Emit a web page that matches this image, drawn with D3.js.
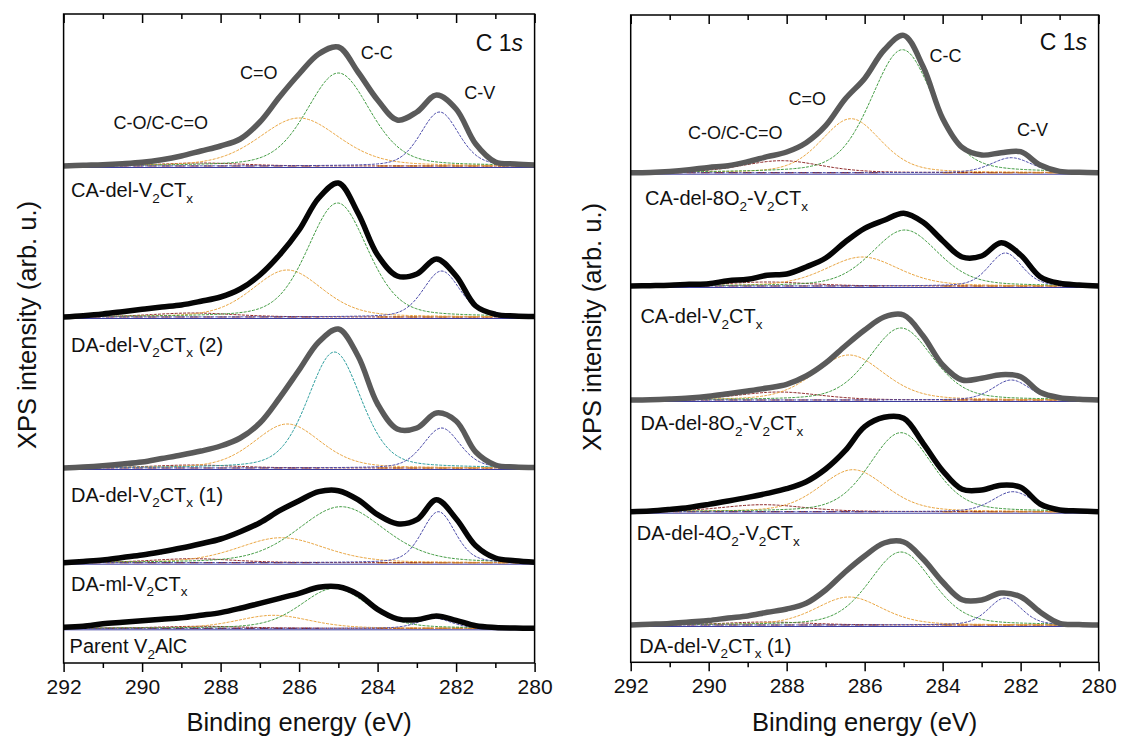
<!DOCTYPE html>
<html><head><meta charset="utf-8">
<script src="https://cdn.jsdelivr.net/npm/d3@7"></script>
<style>
body{margin:0;background:#fff}
svg{display:block}
text{font-family:"Liberation Sans",Arial,sans-serif;fill:#111}
</style>
</head><body>
<svg id="chart" width="1123" height="742"></svg>
<script>
// ---------------- DATA ----------------
// binding-energy grid (eV) of the sampled spectra
const energy = [292,291.5,291,290.5,290,289.5,289,288.5,288,287.5,287,286.5,286,285.5,285,284.5,284,283.5,283,282.5,282,281.5,281,280.5,280];

// left panel, top to bottom (intensity above each spectrum's own background, arb. u.)
const leftSamples = ["CA-del-V_2CT_x","DA-del-V_2CT_x (2)","DA-del-V_2CT_x (1)","DA-ml-V_2CT_x","Parent V_2AlC"];
const leftOffsets = [497, 346, 195, 100.3, 34.7];
const left1 = [0,0.7,1.3,2.3,3.7,6.3,10,15,20,27,44,69,92,112,119,94,66,46,54,71,57,22,4,2,1];
const left2 = [0,1.3,3,5.3,7.7,10,12,15.7,20,28,42,62,87,119,134,104,62,41,43,58,41,11,2.7,1,0.5];
const left3 = [0,1,2.3,4,6,9.5,13,17,22,30,45,70,98,126,139,112,64,39,40,55,47,16,3,1,0.5];
const left4 = [0,1.3,2.7,5.3,7.7,11,14.7,19,23.7,31,40,52,62,71,72,63,48,39,43,63,44,17,4.7,2,0.5];
const left5 = [1,2,4.5,6,7.5,9,10.5,13,15.7,20,25,30,35,41,41.5,34,19,9.5,8.5,12.3,8,2.5,0.8,0.3,0];

// right panel, top to bottom
const rightSamples = ["CA-del-8O_2-V_2CT_x","CA-del-V_2CT_x","DA-del-8O_2-V_2CT_x","DA-del-4O_2-V_2CT_x","DA-del-V_2CT_x (1)"];
const rightOffsets = [489.6, 376.3, 262.3, 150.6, 37.3];
const right1 = [0,0.3,1.3,3,5.3,7,11,16,20.7,30,47,73.7,94.3,122.7,137.3,106,54.3,25.3,17.7,20,21,7.7,1.3,0.5,0];
const right2 = [0,0.3,0.7,1.7,2.3,5.3,6.7,10.7,12,19,28,44,57.7,65.7,72.7,63.7,45.3,29,30,43.3,31,9.3,2.7,1,0];
const right3 = [0,0.3,1,2,3.7,6.3,9,12,15.7,24,37,54,70,83,85,64,35,20,21.7,25.3,23.3,7.7,2.3,0.7,0];
const right4 = [0,0.7,2.3,4.3,7.3,10.7,14.3,18.3,23,30,42.7,61,85,94.4,93.4,68.4,41,22.4,21.7,26.4,24.4,7.7,1.7,0.7,0];
const right5 = [0,0.7,1.5,3,4.5,7,9,12.7,16,21.7,35,53,69,82,83,66,43,25.3,25,32,28.3,13,1.7,0.5,0];

// fitted components: [centre (eV), height (arb. u.), FWHM (eV)] per spectrum
const leftCC  = [[285.0,93,1.9],[285.02,114,1.8],[285.1,116,1.6],[284.93,56,2.6],[285.1,40,2.0]];
const leftCO  = [[286.0,48,2.4],[286.3,47,2.1],[286.3,44,2.0],[286.45,25,2.6],[286.65,13,2.2]];
const leftCV  = [[282.42,54,1.15],[282.37,46,1.1],[282.37,40,1.1],[282.45,51,1.0],[282.55,10,1.0]];
const leftCOC = [[288.5,3,2.5],[288.7,4,2.5],[288.7,3,2.5],[288.7,4,2.5],[288.5,2,2.5]];
const rightCC  = [[285.03,123,1.9],[284.97,56,2.0],[285.07,72,1.9],[285.07,79,1.9],[285.07,73,1.9]];
const rightCO  = [[286.35,54,1.8],[286.06,29,2.2],[286.4,45,2.1],[286.3,42,2.0],[286.4,28,2.0]];
const rightCV  = [[282.24,15,1.2],[282.39,33,1.0],[282.24,20,1.1],[282.2,20,1.2],[282.4,27,1.0]];
const rightCOC = [[288.13,12,2.4],[288.5,4,2.5],[288.2,8,2.5],[288.6,7,2.5],[288.5,3,2.5]];

const majorTicks = [292,290,288,286,284,282,280];
const minorTicks = [291,289,287,285,283,281];
const peakNames = ["C-O/C-C=O","C=O","C-C","C-V"];

// ---------------- DRAWING ----------------
const svg = d3.select("#chart");
const FONT = '"Liberation Sans",Arial,sans-serif';

function pv(E, p){ const t=(E-p[0])/p[2]; return p[1]*(0.7*Math.exp(-4*Math.LN2*t*t)+0.3/(1+4*t*t)); }

function richText(sel, str, size, subSize){
  const parts = str.split(/(_.)/).filter(s=>s.length);
  let shifted = false;
  parts.forEach(p=>{
    if(p[0]==="_"){
      sel.append("tspan").attr("font-size",subSize).attr("dy",shifted?0:size*0.28).text(p[1]);
      shifted = true;
    } else {
      sel.append("tspan").attr("font-size",size).attr("dy",shifted?-size*0.28:0).text(p);
      shifted = false;
    }
  });
}

function panel(cfg){
  const x = d3.scaleLinear().domain([292,280]).range([cfg.x0,cfg.x1]);
  const y = d3.scaleLinear().domain([0,cfg.ymax]).range([cfg.y1,cfg.y0]);
  const g = svg.append("g");
  const cid = "clip"+cfg.id;
  svg.append("clipPath").attr("id",cid).append("rect")
     .attr("x",cfg.x0).attr("y",cfg.y0).attr("width",cfg.x1-cfg.x0).attr("height",cfg.y1-cfg.y0);
  const plot = g.append("g").attr("clip-path",`url(#${cid})`);
  const fine = d3.range(280,292.0001,0.04);

  cfg.series.forEach((vals,i)=>{
    const off = cfg.offsets[i];
    // background lines
    plot.append("line").attr("x1",x(292)).attr("x2",x(280)).attr("y1",y(off)+1.5).attr("y2",y(off)+1.5)
      .attr("stroke","#3d3d9e").attr("stroke-width",1);
    plot.append("line").attr("x1",x(292)).attr("x2",x(285.5)).attr("y1",y(off)).attr("y2",y(off))
      .attr("stroke","#8b2a2a").attr("stroke-width",1.2).attr("stroke-dasharray","9,5");
    plot.append("line").attr("x1",x(284)).attr("x2",x(280)).attr("y1",y(off)).attr("y2",y(off))
      .attr("stroke","#e8a040").attr("stroke-width",1.4).attr("stroke-dasharray","10,5");
    // components
    const comps = [
      [cfg.coc[i],"#8b2323"],
      [cfg.co[i],"#e9a33c"],
      [cfg.cc[i], cfg.ccColor[i]],
      [cfg.cv[i],"#4848a8"]
    ];
    comps.forEach(([p,col])=>{
      const ln = d3.line().x(E=>x(E)).y(E=>y(off+pv(E,p)));
      plot.append("path").attr("d",ln(fine)).attr("fill","none").attr("stroke",col)
        .attr("stroke-width",1).attr("stroke-dasharray","3,1.2");
    });
    // measured spectrum
    const ln = d3.line().x(d=>x(d[0])).y(d=>y(off+d[1])).curve(d3.curveCatmullRom.alpha(0.5));
    plot.append("path").attr("d",ln(energy.map((E,j)=>[E,vals[j]])))
      .attr("fill","none").attr("stroke",cfg.colors[i]).attr("stroke-width",5.5)
      .attr("stroke-linejoin","round").attr("stroke-linecap","round");
    // sample label
    const t = g.append("text").attr("x",cfg.labelX[i]).attr("y",cfg.labelY[i]);
    richText(t, cfg.samples[i], 20, 13.5);
  });

  // axes
  const bottom = g.append("g").attr("transform",`translate(0,${cfg.y1})`)
    .call(d3.axisBottom(x).tickValues(majorTicks).tickSize(9).tickSizeOuter(0).tickPadding(7).tickFormat(d3.format("d")));
  bottom.selectAll("text").attr("font-size",21).attr("font-family",FONT).attr("fill","#111");
  g.append("g").attr("transform",`translate(0,${cfg.y1})`)
    .call(d3.axisBottom(x).tickValues(minorTicks).tickSize(5).tickSizeOuter(0).tickFormat(""));
  g.append("g").attr("transform",`translate(0,${cfg.y0})`)
    .call(d3.axisBottom(x).tickValues(majorTicks).tickSize(9).tickSizeOuter(0).tickFormat(""));
  g.append("g").attr("transform",`translate(0,${cfg.y0})`)
    .call(d3.axisBottom(x).tickValues(minorTicks).tickSize(5).tickSizeOuter(0).tickFormat(""));
  g.selectAll(".domain").remove();
  g.selectAll(".tick line").attr("stroke","#000").attr("stroke-width",1.5);
  g.append("rect").attr("x",cfg.x0).attr("y",cfg.y0).attr("width",cfg.x1-cfg.x0).attr("height",cfg.y1-cfg.y0)
    .attr("fill","none").attr("stroke","#000").attr("stroke-width",1.5);

  // titles
  g.append("text").attr("x",(cfg.x0+cfg.x1)/2).attr("y",731).attr("text-anchor","middle")
    .attr("font-size",25.5).text("Binding energy (eV)");
  g.append("text").attr("transform",`translate(${cfg.ytX},${cfg.ytY}) rotate(-90)`)
    .attr("text-anchor","middle").attr("font-size",25.5).text("XPS intensity (arb. u.)");

  // peak annotations
  peakNames.forEach((n,k)=>{
    g.append("text").attr("x",cfg.peakPos[k][0]).attr("y",cfg.peakPos[k][1]).attr("font-size",18).text(n);
  });
  const c1 = g.append("text").attr("x",cfg.x1-11.5).attr("y",cfg.c1sY).attr("text-anchor","end").attr("font-size",23);
  c1.append("tspan").text("C 1");
  c1.append("tspan").attr("font-style","italic").text("s");
}

panel({
  id:"L", x0:63.6, x1:534.6, y0:14, y1:663, ymax:649,
  series:[left1,left2,left3,left4,left5], offsets:leftOffsets, samples:leftSamples,
  colors:["#5a5a5a","#050505","#5a5a5a","#050505","#050505"],
  cc:leftCC, co:leftCO, cv:leftCV, coc:leftCOC,
  ccColor:["#3f9a3f","#3f9a3f","#2a9d9d","#3f9a3f","#3f9a3f"],
  labelX:[71,71,71,71,69.6], labelY:[197,351.7,501.7,590.7,653.3],
  peakPos:[[113.6,129],[240,79],[360.7,59],[464.3,99]], c1sY:51,
  ytX:36, ytY:325
});
panel({
  id:"R", x0:630.7, x1:1098.6, y0:15, y1:662.3, ymax:647.3,
  series:[right1,right2,right3,right4,right5], offsets:rightOffsets, samples:rightSamples,
  colors:["#5a5a5a","#050505","#5a5a5a","#050505","#5a5a5a"],
  cc:rightCC, co:rightCO, cv:rightCV, coc:rightCOC,
  ccColor:["#3f9a3f","#3f9a3f","#3f9a3f","#3f9a3f","#3f9a3f"],
  labelX:[645,640.4,640.4,636.8,639.3], labelY:[205,323.3,430,540,652.7],
  peakPos:[[687.9,139],[788.6,105],[929.6,62],[1017,136]], c1sY:50,
  ytX:601, ytY:327
});
</script>
</body></html>
